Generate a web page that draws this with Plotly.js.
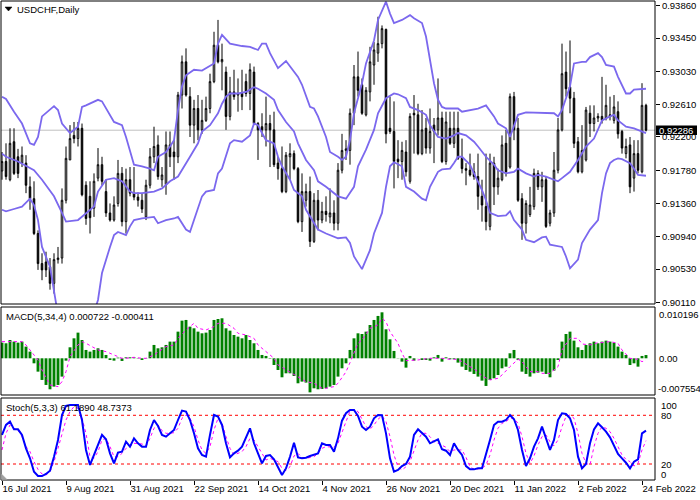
<!DOCTYPE html>
<html>
<head>
<meta charset="utf-8">
<script src="https://cdn.plot.ly/plotly-3.0.1.min.js"></script>
<style>html,body{margin:0;padding:0;background:#fff;}#chart{width:700px;height:500px;}</style>
</head>
<body>
<div id="chart"></div>
<script>
// ---------- DATA ----------
const tickIdx = [0,16,32,48,64,80,96,112,128,144,160];
const tickLabels = ['16 Jul 2021','9 Aug 2021','31 Aug 2021','22 Sep 2021','14 Oct 2021','4 Nov 2021','26 Nov 2021','20 Dec 2021','11 Jan 2022','2 Feb 2022','24 Feb 2022'];
const priceTicks = [0.90110,0.90530,0.90940,0.91360,0.91780,0.92200,0.92610,0.93030,0.93450,0.93860];
const lastPrice = 0.92286;
const macdLabels = ['0.010196','0.00','-0.007554'];
const stochLabels = ['100','80','20','0'];

const opens = [0.9177,0.9189,0.9166,0.9214,0.9195,0.9187,0.9187,0.9157,0.9142,0.9098,
0.9060,0.9062,0.9056,0.9035,0.9065,0.9067,0.9140,0.9191,0.9222,0.9218,
0.9231,0.9159,0.9145,0.9130,0.9168,0.9185,0.9151,0.9124,0.9115,0.9136,
0.9174,0.9113,0.9166,0.9149,0.9144,0.9140,0.9119,0.9159,0.9195,0.9210,
0.9166,0.9160,0.9210,0.9201,0.9195,0.9273,0.9315,0.9271,0.9235,0.9256,
0.9229,0.9241,0.9256,0.9290,0.9336,0.9315,0.9302,0.9246,0.9277,0.9275,
0.9275,0.9290,0.9275,0.9302,0.9237,0.9233,0.9229,0.9237,0.9229,0.9187,
0.9180,0.9151,0.9195,0.9199,0.9180,0.9113,0.9140,0.9151,0.9088,0.9140,
0.9115,0.9126,0.9119,0.9124,0.9111,0.9178,0.9203,0.9203,0.9250,0.9296,
0.9286,0.9248,0.9277,0.9311,0.9326,0.9338,0.9356,0.9231,0.9227,0.9192,
0.9189,0.9201,0.9164,0.9250,0.9248,0.9199,0.9231,0.9206,0.9235,0.9229,
0.9244,0.9189,0.9231,0.9212,0.9231,0.9193,0.9180,0.9178,0.9176,0.9170,
0.9145,0.9132,0.9107,0.9187,0.9157,0.9166,0.9212,0.9182,0.9271,0.9231,
0.9142,0.9111,0.9122,0.9132,0.9174,0.9157,0.9166,0.9111,0.9124,0.9178,
0.9229,0.9302,0.9283,0.9269,0.9214,0.9176,0.9191,0.9250,0.9237,0.9244,
0.9246,0.9244,0.9248,0.9241,0.9252,0.9227,0.9199,0.9210,0.9168,0.9199,
0.9176,0.9260];
const highs = [0.9201,0.9212,0.9231,0.9231,0.9205,0.9208,0.9197,0.9170,0.9164,0.9102,
0.9073,0.9075,0.9067,0.9073,0.9081,0.9155,0.9208,0.9235,0.9239,0.9239,
0.9237,0.9164,0.9164,0.9174,0.9206,0.9195,0.9166,0.9136,0.9145,0.9191,
0.9182,0.9180,0.9182,0.9182,0.9150,0.9149,0.9166,0.9206,0.9233,0.9222,
0.9182,0.9227,0.9227,0.9216,0.9277,0.9323,0.9332,0.9283,0.9267,0.9273,
0.9267,0.9271,0.9300,0.9353,0.9368,0.9338,0.9309,0.9296,0.9305,0.9294,
0.9305,0.9300,0.9313,0.9309,0.9239,0.9250,0.9271,0.9248,0.9252,0.9195,
0.9208,0.9201,0.9212,0.9203,0.9182,0.9174,0.9161,0.9170,0.9149,0.9153,
0.9138,0.9145,0.9155,0.9140,0.9187,0.9224,0.9216,0.9256,0.9311,0.9328,
0.9294,0.9283,0.9334,0.9340,0.9372,0.9361,0.9357,0.9271,0.9265,0.9216,
0.9214,0.9216,0.9250,0.9273,0.9262,0.9254,0.9244,0.9256,0.9244,0.9294,
0.9252,0.9252,0.9252,0.9252,0.9252,0.9218,0.9187,0.9199,0.9187,0.9199,
0.9166,0.9199,0.9199,0.9195,0.9180,0.9222,0.9229,0.9275,0.9277,0.9244,
0.9149,0.9140,0.9157,0.9180,0.9178,0.9176,0.9170,0.9128,0.9201,0.9244,
0.9338,0.9328,0.9342,0.9277,0.9220,0.9235,0.9258,0.9260,0.9260,0.9250,
0.9296,0.9286,0.9271,0.9273,0.9265,0.9229,0.9218,0.9220,0.9216,0.9216,
0.9288,0.9262];
const lows = [0.9166,0.9166,0.9164,0.9172,0.9168,0.9182,0.9149,0.9128,0.9096,0.9052,
0.9039,0.9043,0.9027,0.9022,0.9060,0.9060,0.9136,0.9191,0.9212,0.9208,
0.9145,0.9109,0.9098,0.9119,0.9164,0.9159,0.9119,0.9113,0.9113,0.9132,
0.9107,0.9098,0.9145,0.9140,0.9132,0.9124,0.9115,0.9155,0.9187,0.9166,
0.9157,0.9147,0.9182,0.9166,0.9187,0.9256,0.9271,0.9220,0.9212,0.9216,
0.9224,0.9239,0.9250,0.9288,0.9313,0.9279,0.9229,0.9241,0.9267,0.9252,
0.9254,0.9271,0.9254,0.9235,0.9191,0.9220,0.9208,0.9182,0.9182,0.9166,
0.9149,0.9149,0.9166,0.9178,0.9111,0.9100,0.9132,0.9081,0.9086,0.9102,
0.9111,0.9113,0.9111,0.9102,0.9102,0.9174,0.9191,0.9185,0.9235,0.9271,
0.9248,0.9246,0.9265,0.9286,0.9315,0.9332,0.9212,0.9224,0.9155,0.9168,
0.9166,0.9170,0.9161,0.9199,0.9197,0.9197,0.9199,0.9199,0.9187,0.9222,
0.9187,0.9185,0.9210,0.9206,0.9191,0.9174,0.9159,0.9170,0.9166,0.9128,
0.9113,0.9102,0.9102,0.9134,0.9147,0.9164,0.9170,0.9180,0.9216,0.9138,
0.9090,0.9098,0.9119,0.9128,0.9153,0.9138,0.9105,0.9107,0.9119,0.9174,
0.9227,0.9271,0.9250,0.9206,0.9174,0.9174,0.9189,0.9220,0.9227,0.9239,
0.9237,0.9241,0.9241,0.9237,0.9218,0.9199,0.9193,0.9149,0.9151,0.9174,
0.9174,0.9227];
const closes = [0.9189,0.9170,0.9212,0.9174,0.9174,0.9197,0.9159,0.9142,0.9098,0.9060,
0.9052,0.9052,0.9035,0.9065,0.9067,0.9140,0.9193,0.9218,0.9218,0.9231,
0.9147,0.9117,0.9118,0.9164,0.9185,0.9164,0.9124,0.9115,0.9134,0.9174,
0.9113,0.9166,0.9149,0.9144,0.9140,0.9129,0.9159,0.9195,0.9208,0.9170,
0.9172,0.9210,0.9195,0.9195,0.9273,0.9315,0.9273,0.9235,0.9256,0.9229,
0.9241,0.9256,0.9290,0.9336,0.9315,0.9318,0.9246,0.9277,0.9271,0.9273,
0.9271,0.9275,0.9305,0.9237,0.9229,0.9229,0.9237,0.9229,0.9185,0.9180,
0.9151,0.9197,0.9199,0.9180,0.9113,0.9151,0.9151,0.9088,0.9140,0.9115,
0.9126,0.9122,0.9124,0.9111,0.9178,0.9203,0.9205,0.9250,0.9296,0.9279,
0.9250,0.9279,0.9315,0.9330,0.9338,0.9357,0.9224,0.9227,0.9189,0.9189,
0.9203,0.9176,0.9246,0.9248,0.9199,0.9229,0.9206,0.9227,0.9227,0.9244,
0.9189,0.9239,0.9212,0.9231,0.9193,0.9180,0.9178,0.9172,0.9170,0.9145,
0.9134,0.9113,0.9187,0.9157,0.9168,0.9210,0.9176,0.9271,0.9229,0.9140,
0.9111,0.9136,0.9134,0.9174,0.9157,0.9166,0.9107,0.9124,0.9178,0.9229,
0.9300,0.9281,0.9269,0.9212,0.9176,0.9203,0.9254,0.9237,0.9244,0.9246,
0.9241,0.9260,0.9246,0.9258,0.9224,0.9206,0.9208,0.9157,0.9199,0.9178,
0.9260,0.92286];

const upperIdx = [0,1,3,5,7,8,9,10,13,14,15,17,19,20,21,22,24,25,27,28,30,31,33,35,37,38,39,41,42,43,44,45,46,48,50,51,53,54,55,57,60,62,64,65,66,67,69,71,72,74,75,77,78,79,81,82,84,85,86,87,88,90,91,93,94,96,97,98,100,102,103,105,106,107,108,109,110,111,114,115,117,119,121,123,124,126,127,128,129,131,135,138,139,140,142,143,145,146,147,149,150,151,153,154,156,157,158,161];
const upperVal = [0.9271,0.9268,0.9252,0.9237,0.9212,0.9210,0.9220,0.9246,0.9259,0.9254,0.9237,0.9225,0.9233,0.9258,0.9260,0.9262,0.9267,0.9265,0.9248,0.9239,0.9235,0.9220,0.9185,0.9183,0.9180,0.9178,0.9195,0.9201,0.9208,0.9216,0.9254,0.9284,0.9298,0.9305,0.9304,0.9307,0.9313,0.9338,0.9349,0.9338,0.9335,0.9334,0.9330,0.9338,0.9338,0.9326,0.9307,0.9316,0.9309,0.9296,0.9286,0.9258,0.9256,0.9246,0.9220,0.9201,0.9195,0.9191,0.9195,0.9216,0.9250,0.9288,0.9313,0.9342,0.9368,0.9391,0.9376,0.9364,0.9368,0.9374,0.9370,0.9364,0.9347,0.9319,0.9288,0.9267,0.9258,0.9256,0.9256,0.9252,0.9254,0.9256,0.9260,0.9246,0.9237,0.9231,0.9220,0.9235,0.9248,0.9251,0.9250,0.9250,0.9246,0.9254,0.9284,0.9313,0.9315,0.9315,0.9321,0.9326,0.9321,0.9311,0.9309,0.9296,0.9275,0.9275,0.9280,0.9281];

const midIdx = [0,1,4,6,8,10,13,15,16,19,21,23,24,26,28,30,32,33,35,38,40,42,44,45,47,49,50,52,54,55,56,57,59,61,63,64,66,68,69,71,73,74,76,78,79,81,84,86,88,89,91,93,94,96,98,99,101,102,104,106,107,109,111,113,114,116,118,119,121,123,124,126,128,129,131,133,134,136,138,139,140,142,144,145,146,148,149,150,152,153,154,156,158,159,161];
const midVal = [0.9199,0.9195,0.9189,0.9183,0.9178,0.9166,0.9145,0.9124,0.9113,0.9115,0.9124,0.9132,0.9151,0.9166,0.9168,0.9164,0.9151,0.9149,0.9149,0.9151,0.9155,0.9164,0.9170,0.9178,0.9195,0.9212,0.9227,0.9235,0.9250,0.9262,0.9271,0.9275,0.9275,0.9277,0.9283,0.9281,0.9275,0.9267,0.9254,0.9239,0.9227,0.9212,0.9191,0.9178,0.9164,0.9157,0.9145,0.9142,0.9157,0.9183,0.9204,0.9229,0.9250,0.9269,0.9275,0.9274,0.9269,0.9258,0.9254,0.9248,0.9235,0.9220,0.9218,0.9222,0.9225,0.9222,0.9214,0.9208,0.9195,0.9185,0.9178,0.9174,0.9176,0.9180,0.9174,0.9170,0.9172,0.9170,0.9166,0.9164,0.9168,0.9176,0.9191,0.9199,0.9208,0.9218,0.9229,0.9241,0.9246,0.9248,0.9241,0.9233,0.9231,0.9229,0.9225];

const lowerIdx = [0,1,3,5,7,8,9,10,12,13,14,16,19,22,23,24,25,27,28,29,31,32,33,35,38,39,41,43,44,46,47,48,50,51,53,54,55,57,58,60,62,63,64,65,66,68,69,70,72,73,75,76,78,79,81,82,84,86,87,88,90,91,92,93,95,96,97,98,100,101,103,105,106,107,109,110,112,113,114,115,117,118,119,120,121,122,124,126,127,128,130,131,133,135,136,137,140,141,142,144,145,147,149,150,151,152,153,154,155,157,158,159,161];
const lowerVal = [0.9128,0.9126,0.9129,0.9132,0.9142,0.9134,0.9115,0.9081,0.9056,0.9022,0.8995,0.8978,0.8972,0.8985,0.8998,0.9014,0.9048,0.9081,0.9096,0.9100,0.9096,0.9107,0.9115,0.9117,0.9119,0.9111,0.9115,0.9117,0.9119,0.9103,0.9100,0.9115,0.9145,0.9151,0.9153,0.9174,0.9180,0.9212,0.9216,0.9214,0.9222,0.9237,0.9235,0.9225,0.9216,0.9212,0.9195,0.9183,0.9166,0.9153,0.9145,0.9128,0.9111,0.9103,0.9098,0.9096,0.9092,0.9093,0.9086,0.9069,0.9053,0.9065,0.9077,0.9098,0.9124,0.9157,0.9183,0.9188,0.9183,0.9157,0.9151,0.9142,0.9140,0.9157,0.9176,0.9179,0.9180,0.9187,0.9195,0.9195,0.9185,0.9174,0.9164,0.9153,0.9140,0.9124,0.9120,0.9121,0.9126,0.9115,0.9103,0.9090,0.9087,0.9093,0.9094,0.9084,0.9081,0.9069,0.9054,0.9065,0.9086,0.9103,0.9115,0.9149,0.9174,0.9187,0.9191,0.9193,0.9192,0.9187,0.9180,0.9172,0.9171];

const macdHist = [0.00347,0.00333,0.00406,0.00370,0.00347,0.00370,0.00259,0.00148,-0.00111,-0.00296,
-0.00480,-0.00591,-0.00687,-0.00628,-0.00591,-0.00406,-0.00052,0.00244,0.00443,0.00569,
0.00406,0.00185,0.00148,0.00185,0.00222,0.00185,0.00074,-0.00037,-0.00052,0.00015,
-0.00059,0.00022,0.00022,0.00022,-0.00007,-0.00037,0.00007,0.00148,0.00296,0.00222,
0.00244,0.00296,0.00370,0.00370,0.00591,0.00835,0.00850,0.00702,0.00665,0.00591,
0.00554,0.00569,0.00628,0.00850,0.00872,0.00887,0.00665,0.00613,0.00517,0.00480,
0.00443,0.00517,0.00406,0.00333,0.00185,0.00074,0.00052,-0.00010,-0.00148,-0.00259,
-0.00421,-0.00333,-0.00333,-0.00392,-0.00554,-0.00517,-0.00539,-0.00755,-0.00665,-0.00687,
-0.00680,-0.00665,-0.00628,-0.00591,-0.00406,-0.00222,-0.00111,0.00185,0.00443,0.00554,
0.00539,0.00591,0.00739,0.00850,0.00939,0.010196,0.00643,0.00421,0.00163,-0.00005,
-0.00074,-0.00207,0.00052,-0.00052,-0.00002,-0.00037,-0.00037,-0.00052,0.00022,0.00074,
-0.00074,0.00022,-0.00022,-0.00022,-0.00096,-0.00185,-0.00259,-0.00296,-0.00347,-0.00406,
-0.00495,-0.00613,-0.00480,-0.00443,-0.00370,-0.00222,-0.00185,0.00111,0.00185,-0.00037,
-0.00296,-0.00347,-0.00406,-0.00333,-0.00318,-0.00296,-0.00347,-0.00421,-0.00273,-0.00037,
0.00370,0.00539,0.00591,0.00392,0.00244,0.00185,0.00296,0.00333,0.00370,0.00333,
0.00370,0.00392,0.00370,0.00347,0.00259,0.00148,0.00074,-0.00148,-0.00111,-0.00185,
0.00052,0.000722];

const macdSigIdx = [0,2,5,6,7,9,10,11,12,14,15,16,17,19,20,21,23,24,26,28,30,31,33,35,36,38,40,41,43,44,46,48,49,51,53,54,56,58,59,61,63,64,66,68,69,71,73,74,76,78,80,81,83,84,86,87,89,90,92,94,95,96,97,99,100,101,103,104,105,107,109,110,112,114,115,117,119,120,122,124,125,127,129,130,132,134,135,137,139,140,142,144,145,147,149,150,152,154,155,157,159,160,161];
const macdSigVal = [0.00370,0.00370,0.00370,0.00296,0.00185,-0.00037,-0.00259,-0.00443,-0.00591,-0.00628,-0.00517,-0.00296,0.00037,0.00296,0.00370,0.00333,0.00222,0.00185,0.00148,0.00074,0,0,0.00022,0,0,0.00074,0.00185,0.00259,0.00296,0.00443,0.00628,0.00776,0.00665,0.00628,0.00702,0.00776,0.00776,0.00665,0.00554,0.00517,0.00443,0.00296,0.00148,0,-0.00148,-0.00259,-0.00370,-0.00421,-0.00517,-0.00554,-0.00665,-0.00665,-0.00628,-0.00554,-0.00300,-0.00096,0.00333,0.00406,0.00665,0.00739,0.00887,0.00813,0.00591,0.00333,0.00111,-0.00052,-0.00052,-0.00037,-0.00022,0,0,0,-0.00022,-0.00022,-0.00074,-0.00185,-0.00296,-0.00392,-0.00480,-0.00443,-0.00370,-0.00185,-0.00022,-0.00074,-0.00296,-0.00296,-0.00333,-0.00333,-0.00185,0.00185,0.00443,0.00443,0.00318,0.00296,0.00347,0.00347,0.00370,0.00333,0.00185,0,-0.00022,-0.00074,-0.000411];

const stochMain = [55.8,68.1,72.2,62.7,62.7,55.8,39.3,27.0,10.5,5.2,
5.2,7.7,11.8,29.0,49.6,80.4,91.5,92.7,92.7,92.7,
74.2,37.3,18.8,31.1,45.5,55.8,50.4,33.1,20.8,34.0,
35.2,47.5,41.4,51.6,45.5,41.4,41.4,61.9,74.2,66.8,
55.8,53.7,57.8,61.9,74.2,85.8,84.5,74.2,57.8,39.3,
31.1,29.0,55.8,80.4,78.4,68.1,45.5,28.2,33.1,36.4,
41.4,53.7,64.0,45.5,33.1,20.8,29.9,31.1,25.7,16.7,
6.4,14.6,29.0,46.3,28.2,27.0,27.8,29.9,31.1,33.1,
45.5,43.4,43.4,35.2,51.6,73.4,82.5,86.6,86.6,79.2,
66.0,61.9,66.0,76.3,80.4,80.0,57.8,27.0,10.5,12.6,
17.5,20.0,29.0,55.8,62.7,57.8,53.7,45.5,47.5,50.4,
38.1,36.4,31.1,45.5,37.3,31.1,17.5,13.4,13.4,14.7,
14.7,31.1,49.6,68.1,72.2,72.2,74.2,80.4,75.1,61.9,
37.3,17.5,27.0,41.4,51.6,66.0,50.4,37.3,49.6,74.2,
82.5,81.6,76.3,61.9,29.0,14.7,20.0,45.5,62.7,70.1,
65.2,59.9,52.9,42.2,32.3,27.0,21.6,14.7,22.9,25.7,
57.8,61.189];
const stochSignal = [37.3,57.8,68.1,64.0,61.9,53.7,41.4,35.2,22.9,13.4,
7.7,6.4,10.5,22.9,39.3,57.8,74.2,84.5,90.7,88.6,
76.3,57.8,29.0,27.0,35.2,49.6,51.6,41.4,29.0,29.0,
33.1,39.3,41.4,45.5,45.5,44.7,42.2,51.6,64.0,68.1,
61.1,57.8,57.8,58.6,64.0,76.3,80.4,76.3,66.0,49.6,
37.3,33.1,41.4,61.9,76.3,70.1,53.7,39.3,31.1,33.1,
35.2,41.4,51.6,49.6,41.4,33.1,24.9,27.0,24.9,22.9,
14.7,11.8,16.7,29.9,33.1,28.2,27.0,28.2,29.0,33.1,
39.3,41.4,40.6,40.6,45.5,59.9,72.2,85.0,87.4,84.5,
74.2,66.0,62.7,68.1,75.1,79.2,72.2,53.7,31.1,16.7,
12.6,16.7,22.9,35.2,49.6,57.8,57.8,53.7,47.5,45.5,
43.4,40.6,35.2,37.3,37.3,37.3,28.2,16.7,13.4,13.8,
14.7,18.8,31.1,49.6,64.0,70.1,72.2,76.3,76.3,70.1,
53.7,33.1,20.8,29.9,43.4,53.7,55.8,47.5,42.2,49.6,
66.0,78.4,80.4,76.3,57.8,33.1,20.8,18.8,41.4,57.8,
66.0,64.0,59.9,51.6,41.4,31.1,25.7,22.9,17.5,20.8,
37.3,48.7373];

// ---------- LAYOUT GEOMETRY ----------
const W = 700, H = 500, ML = 1, MR = 45, MT = 1, MB = 20;
const px2x = px => (px - ML) / (W - ML - MR);
const py2y = py => (H - MB - py) / (H - MT - MB);
const FONT = 'Liberation Sans, Arial, sans-serif';
const FS = 9.5;
const idx = closes.map((_, i) => i);

const traces = [
  {type:'candlestick', x: idx, open: opens, high: highs, low: lows, close: closes,
   xaxis:'x', yaxis:'y',
   increasing:{line:{color:'#000000', width:1}, fillcolor:'#ffffff'},
   decreasing:{line:{color:'#000000', width:1}, fillcolor:'#000000'},
   whiskerwidth:0, hoverinfo:'skip'},
  {type:'scatter', mode:'lines', x: upperIdx, y: upperVal, xaxis:'x', yaxis:'y',
   line:{color:'#7B68EE', width:1.8}, hoverinfo:'skip'},
  {type:'scatter', mode:'lines', x: midIdx, y: midVal, xaxis:'x', yaxis:'y',
   line:{color:'#7B68EE', width:1.8}, hoverinfo:'skip'},
  {type:'scatter', mode:'lines', x: lowerIdx, y: lowerVal, xaxis:'x', yaxis:'y',
   line:{color:'#7B68EE', width:1.8}, hoverinfo:'skip'},
  {type:'bar', x: idx, y: macdHist, xaxis:'x', yaxis:'y2', width:0.72,
   marker:{color:'#008000', line:{width:0}}, hoverinfo:'skip'},
  {type:'scatter', mode:'lines', x: macdSigIdx, y: macdSigVal, xaxis:'x', yaxis:'y2',
   line:{color:'#FF00FF', width:1, dash:'dot'}, hoverinfo:'skip'},
  {type:'scatter', mode:'lines', x: idx, y: stochSignal, xaxis:'x', yaxis:'y3',
   line:{color:'#FF00FF', width:1, dash:'dot'}, hoverinfo:'skip'},
  {type:'scatter', mode:'lines', x: idx, y: stochMain, xaxis:'x', yaxis:'y3',
   line:{color:'#0000FF', width:2}, hoverinfo:'skip'}
];

const frame = (top, bot) => ({type:'rect', xref:'paper', yref:'paper', x0:0, x1:1,
  y0:py2y(bot), y1:py2y(top), line:{color:'#000', width:1}, layer:'above'});

const shapes = [
  {type:'line', xref:'paper', yref:'y', x0:0, x1:1, y0:lastPrice, y1:lastPrice,
   line:{color:'#C0C0C0', width:1}, layer:'below'},
  {type:'line', xref:'paper', yref:'y3', x0:0, x1:1, y0:80, y1:80,
   line:{color:'#FF0000', width:1, dash:'3px,3px'}, layer:'below'},
  {type:'line', xref:'paper', yref:'y3', x0:0, x1:1, y0:20, y1:20,
   line:{color:'#FF0000', width:1, dash:'3px,3px'}, layer:'below'},
  frame(1, 304), frame(307, 395), frame(398, 480),
  {type:'path', xref:'paper', yref:'paper',
   path:`M ${px2x(5)} ${py2y(7)} L ${px2x(12)} ${py2y(7)} L ${px2x(8.5)} ${py2y(11)} Z`,
   fillcolor:'#000', line:{color:'#000', width:0.5}, layer:'above'},
  {type:'path', xref:'paper', yref:'paper',
   path:`M ${px2x(1.5)} ${py2y(474)} L ${px2x(1.5)} ${py2y(479.5)} L ${px2x(7)} ${py2y(479.5)} Z`,
   fillcolor:'#A0A0A0', line:{color:'#A0A0A0', width:0.5}, layer:'above'},
  {type:'rect', xref:'paper', yref:'paper', x0:px2x(656), x1:px2x(697),
   y0:py2y(135), y1:py2y(125.5), fillcolor:'#000', line:{width:0}, layer:'above'}
];

const ann = (text, px, py, color) => ({text: String(text), xref:'paper', yref:'paper', x:px2x(px), y:py2y(py),
  xanchor:'left', yanchor:'middle', showarrow:false, font:{family:FONT, size:FS, color: color || '#000'}});

const annotations = [
  ann('USDCHF,Daily', 15, 9.5),
  ann('MACD(5,34,4) 0.000722 -0.000411', 4, 316),
  ann('Stoch(5,3,3) 61.1890 48.7373', 4, 407),
  ann(macdLabels[0], 657, 314),
  ann(macdLabels[1], 657, 358.5),
  ann(macdLabels[2], 656, 388.5),
  ann(stochLabels[0], 659, 405),
  ann(stochLabels[1], 659, 415.5),
  ann(stochLabels[2], 659, 464),
  ann(stochLabels[3], 659, 474.5),
  ann(lastPrice.toFixed(5), 657, 130.3, '#ffffff')
];

const layout = {
  width: W, height: H,
  margin:{l:ML, r:MR, t:MT, b:MB, pad:0},
  paper_bgcolor:'#ffffff', plot_bgcolor:'#ffffff',
  showlegend:false, hovermode:false, boxgap:0.45, bargap:0.25,
  xaxis:{range:[-0.25, 163.25], anchor:'y3', domain:[0,1], showgrid:false, zeroline:false,
    rangeslider:{visible:false}, tickvals: tickIdx, ticktext: tickLabels,
    ticks:'outside', ticklen:4, tickcolor:'#000', ticklabelposition:'outside right',
    ticklabeloverflow:'allow',
    tickfont:{family:FONT, size:FS, color:'#000'}, showline:false, fixedrange:true},
  yaxis:{domain:[py2y(304), py2y(1)], range:[0.90089, 0.93919], side:'right', anchor:'x',
    tickvals: priceTicks, ticktext: priceTicks.map(v => v.toFixed(5)),
    ticklabeloverflow:'allow',
    ticks:'outside', ticklen:4, tickcolor:'#000', showgrid:false, zeroline:false, showline:false,
    tickfont:{family:FONT, size:FS, color:'#000'}},
  yaxis2:{domain:[py2y(395), py2y(307)], range:[-0.008136, 0.011373], anchor:'x',
    visible:false, showgrid:false, zeroline:false},
  yaxis3:{domain:[py2y(480), py2y(398)], range:[0.3, 101.3], anchor:'x',
    visible:false, showgrid:false, zeroline:false},
  shapes, annotations
};

Plotly.newPlot('chart', traces, layout, {staticPlot:true, displayModeBar:false});
</script>
</body>
</html>
